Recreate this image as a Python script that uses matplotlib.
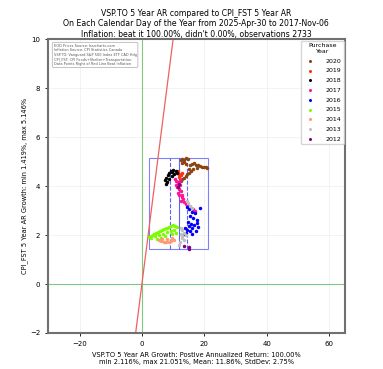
import matplotlib
matplotlib.use("Agg")
import matplotlib.pyplot as plt
from matplotlib.patches import Rectangle

# point clouds by purchase year (x = VSP.TO 5yr AR %, y = CPI_FST 5yr AR %)
YEARS = [2020, 2019, 2018, 2017, 2016, 2015, 2014, 2013, 2012]
COLOURS = ["#8b4513", "#ff3010", "#000000", "#ff1493", "#0000ff",
           "#7cfc00", "#ff9a70", "#c0c0c0", "#800080"]

X_2020 = [12.5, 13.0, 13.6, 14.2, 14.8, 12.8, 13.4, 14.0, 15.5, 16.2, 16.8, 17.3, 18.0, 18.6,
          19.3, 20.0, 20.7, 21.0, 17.5, 16.5, 15.8, 15.2, 14.6, 14.0, 13.5, 13.0, 12.6, 15.0]
Y_2020 = [5.05, 5.12, 5.08, 5.14, 5.10, 4.95, 4.98, 4.92, 4.85, 4.90, 4.95, 4.88, 4.85, 4.82,
          4.80, 4.78, 4.80, 4.76, 4.75, 4.70, 4.62, 4.55, 4.48, 4.42, 4.35, 4.28, 4.22, 4.70]
X_2019 = [11.2, 11.8, 12.4, 12.0, 13.0, 11.5]
Y_2019 = [4.52, 4.48, 4.45, 4.38, 4.55, 4.60]
X_2018 = [7.3, 7.8, 8.3, 8.8, 9.3, 9.8, 10.4, 10.9, 11.3, 8.0, 8.6, 9.5, 7.6, 10.1]
Y_2018 = [4.25, 4.35, 4.45, 4.55, 4.62, 4.58, 4.50, 4.60, 4.55, 4.15, 4.30, 4.40, 4.10, 4.65]
X_2017 = [10.5, 11.0, 11.6, 12.1, 11.3, 11.8, 12.4, 11.5, 12.0, 12.7, 13.2, 12.5, 13.5, 14.0,
          14.6, 15.2, 15.8, 16.3, 16.9, 13.0, 10.8, 12.2]
Y_2017 = [4.30, 4.22, 4.15, 4.05, 3.95, 3.88, 3.80, 3.70, 3.62, 3.55, 3.48, 3.40, 3.35, 3.28,
          3.22, 3.18, 3.12, 3.05, 3.00, 3.65, 4.05, 4.25]
X_2016 = [14.5, 15.2, 16.0, 17.0, 18.5, 15.5, 16.5, 17.5, 14.8, 15.8, 16.8, 18.0, 13.8, 14.6,
          15.4, 16.2, 17.2, 14.0, 13.4, 15.0, 16.0, 17.8]
Y_2016 = [3.15, 3.05, 2.95, 2.90, 3.10, 2.80, 2.70, 2.62, 2.55, 2.45, 2.40, 2.35, 2.30, 2.22,
          2.15, 2.28, 2.18, 2.10, 2.05, 2.38, 2.05, 2.50]
X_2015 = [2.2, 2.8, 3.4, 4.0, 4.6, 5.2, 5.8, 6.4, 7.0, 7.6, 8.2, 8.8, 9.4, 10.0, 10.6, 11.2,
          3.0, 4.2, 5.5, 6.8, 8.0, 9.2, 10.4, 4.8, 6.0, 7.4, 9.8, 11.0]
Y_2015 = [1.92, 1.98, 2.02, 2.06, 2.10, 2.12, 2.16, 2.20, 2.24, 2.28, 2.30, 2.34, 2.38, 2.40,
          2.36, 2.32, 1.88, 1.95, 2.00, 2.05, 2.12, 2.18, 2.22, 1.85, 1.90, 1.95, 2.05, 2.10]
X_2014 = [5.5, 6.2, 7.0, 7.8, 8.6, 9.4, 10.2, 6.6, 8.2, 9.8]
Y_2014 = [1.78, 1.74, 1.72, 1.70, 1.73, 1.76, 1.80, 1.82, 1.85, 1.88]
X_2013 = [12.4, 13.0, 13.6, 14.2, 12.8, 13.4, 12.2, 11.8, 14.8, 15.4, 16.0, 14.5, 13.0, 12.6]
Y_2013 = [2.30, 2.20, 2.10, 2.00, 1.90, 1.80, 1.70, 1.60, 3.30, 3.20, 3.10, 3.40, 1.95, 2.05]
X_2012 = [15.2, 15.0, 11.8, 11.6, 13.6]
Y_2012 = [1.45, 1.50, 4.10, 3.95, 1.55]

XS = [X_2020, X_2019, X_2018, X_2017, X_2016, X_2015, X_2014, X_2013, X_2012]
YS = [Y_2020, Y_2019, Y_2018, Y_2017, Y_2016, Y_2015, Y_2014, Y_2013, Y_2012]

X_MIN, X_MAX, X_MEAN, X_STD = 2.116, 21.051, 11.86, 2.75
Y_MIN, Y_MAX = 1.419, 5.146

fig = plt.figure(figsize=(3.83, 3.69), dpi=100)
ax = fig.add_axes([0.1245, 0.0976, 0.7763, 0.7959])

ax.grid(True, color="#eeeeee", linewidth=0.5)
ax.set_axisbelow(True)

for yr, col, xs, ys in zip(YEARS, COLOURS, XS, YS):
    ax.scatter(xs, ys, s=2.2, color=col, label=str(yr), zorder=3)

ax.axvline(0, color="#7fc97f", linewidth=0.8)
ax.axhline(0, color="#7fc97f", linewidth=0.8)
ax.plot([-2, 10], [-2, 10], color="#f06060", linewidth=0.9)

ax.add_patch(Rectangle((X_MIN, Y_MIN), X_MAX - X_MIN, Y_MAX - Y_MIN,
                       fill=False, edgecolor="#8080ff", linewidth=0.8))
ax.plot([X_MEAN, X_MEAN], [Y_MIN, Y_MAX], color="#6060ff", linewidth=0.8)
for v in (X_MEAN - X_STD, X_MEAN + X_STD):
    ax.plot([v, v], [Y_MIN, Y_MAX], color="#6060ff", linewidth=0.8, linestyle="--")

ax.set_xlim(-30.2, 65.1)
ax.set_ylim(-2, 10)
ax.set_xticks([-20, 0, 20, 40, 60])
ax.set_yticks([-2, 0, 2, 4, 6, 8, 10])
ax.tick_params(labelsize=5, length=2, width=0.6)
for sp in ax.spines.values():
    sp.set_color("#707070")
    sp.set_linewidth(1.5)

ax.set_title("VSP.TO 5 Year AR compared to CPI_FST 5 Year AR\n"
             "On Each Calendar Day of the Year from 2025-Apr-30 to 2017-Nov-06\n"
             "Inflation: beat it 100.00%, didn't 0.00%, observations 2733",
             fontsize=5.6, pad=2)
ax.set_xlabel("VSP.TO 5 Year AR Growth: Postive Annualized Return: 100.00%\n"
              "min 2.116%, max 21.051%, Mean: 11.86%, StdDev: 2.75%", fontsize=4.8, labelpad=4)
ax.set_ylabel("CPI_FST 5 Year AR Growth: min 1.419%, max 5.146%", fontsize=4.8, labelpad=1)

ax.text(0.02, 0.985, "EOD Prices Source: barcharts.com\n"
        "Inflation Source: CPI Statistics Canada\n"
        "VSP.TO: Vanguard S&P 500 Index ETF CAD Hdg\n"
        "CPI_FST: CPI Foods+Shelter+Transportation\n"
        "Data Points Right of Red Line Beat Inflation",
        transform=ax.transAxes, fontsize=2.5, va="top", ha="left", color="#555555",
        bbox=dict(boxstyle="round,pad=0.4", facecolor="white", edgecolor="#aaaaaa", linewidth=0.5))

leg = ax.legend(title="Purchase\nYear", loc="upper right", fontsize=4.5, title_fontsize=4.5,
                markerscale=0.8, handletextpad=1.5, borderaxespad=0.2, labelspacing=0.7)
leg.get_title().set_multialignment("center")

fig.savefig("out.png", dpi=100)
